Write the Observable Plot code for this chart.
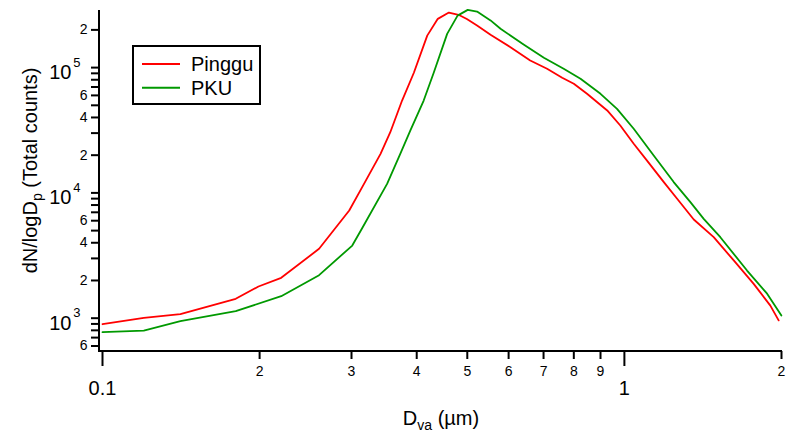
<!DOCTYPE html>
<html><head><meta charset="utf-8">
<script src="https://cdn.jsdelivr.net/npm/d3@7"></script>
<script src="https://cdn.jsdelivr.net/npm/@observablehq/plot@0.6"></script>
<style>
body{margin:0;background:#fff}
svg{font-family:"Liberation Sans",Arial,sans-serif}
</style>
</head><body><div id="chart"></div>
<script>
// ---- data ----
const pingguD = [0.1, 0.12, 0.141, 0.18, 0.199, 0.22, 0.26, 0.297, 0.317, 0.341, 0.356, 0.375, 0.395, 0.419, 0.439, 0.461, 0.481, 0.499, 0.522, 0.554, 0.605, 0.66, 0.711, 0.76, 0.8, 0.848, 0.927, 0.982, 1.042, 1.105, 1.19, 1.262, 1.358, 1.483, 1.62, 1.769, 1.904, 1.975];
const pingguN = [895, 1005, 1076, 1428, 1791, 2100, 3580, 7240, 11800, 20500, 30500, 54600, 91000, 180000, 245000, 275000, 264000, 244000, 217000, 183000, 145500, 114000, 97800, 82900, 74300, 61800, 45500, 34500, 24700, 18100, 12200, 8970, 6130, 4430, 2890, 1880, 1260, 960];
const pkuD = [0.1, 0.12, 0.141, 0.18, 0.22, 0.26, 0.301, 0.314, 0.351, 0.372, 0.389, 0.4125, 0.431, 0.4575, 0.479, 0.501, 0.522, 0.554, 0.579, 0.641, 0.701, 0.765, 0.824, 0.9, 0.968, 1.042, 1.138, 1.243, 1.338, 1.419, 1.527, 1.718, 1.877, 1.999];
const pkuN = [773, 797, 946, 1137, 1498, 2204, 3800, 5170, 11800, 20500, 31500, 54600, 90600, 186000, 260000, 289000, 280000, 238000, 204000, 153000, 120000, 97800, 81400, 61800, 46900, 32500, 19900, 12200, 8430, 6210, 4430, 2400, 1570, 1050];

const seriesNames = ["Pinggu", "PKU"];
const seriesColors = ["#ff0000", "#009900"];

// ---- tick definitions ----
const xMajorTicks = [0.1, 1];
const xMajorLabels = ["0.1", "1"];
const xMinorTicks = [0.2, 0.3, 0.4, 0.5, 0.6, 0.7, 0.8, 0.9, 2];
const xMinorLabels = ["2", "3", "4", "5", "6", "7", "8", "9", "2"];
const yMajorTicks = [1e3, 1e4, 1e5];
const yMajorBase = ["10", "10", "10"];
const yMajorExp = ["3", "4", "5"];
const yLabeledMinor = [600, 2000, 4000, 6000, 20000, 40000, 60000, 200000];
const yLabeledMinorText = ["6", "2", "4", "6", "2", "4", "6", "2"];
const yAllTicks = [600, 700, 800, 900, 1000, 2000, 3000, 4000, 5000, 6000, 7000, 8000, 9000, 10000, 20000, 30000, 40000, 50000, 60000, 70000, 80000, 90000, 100000, 200000];

const pinggu = pingguD.map((d, i) => ({d, n: pingguN[i]}));
const pku = pkuD.map((d, i) => ({d, n: pkuN[i]}));

const W = 787, H = 438, mL = 99, mR = 6, mT = 10, mB = 87;

const plot = Plot.plot({
  width: W, height: H,
  marginLeft: mL, marginRight: mR, marginTop: mT, marginBottom: mB,
  style: {background: "white", color: "black", fontFamily: "Liberation Sans, Arial, sans-serif", overflow: "visible"},
  x: {type: "log", domain: [0.1, 2], range: [102, 781], axis: null, label: null},
  y: {type: "log", domain: [542.2, 285600], axis: null, label: null},
  marks: [
    Plot.axisY({ticks: yAllTicks, anchor: "left", tickSize: 8, tickFormat: () => "", strokeWidth: 2, label: null}),
    Plot.text(yLabeledMinor, {y: d => d, text: (d, i) => yLabeledMinorText[i], frameAnchor: "left",
      textAnchor: "end", dx: -12, fontSize: 14, fill: "black"}),
    Plot.text(yMajorTicks, {y: d => d, text: (d, i) => yMajorBase[i], frameAnchor: "left",
      textAnchor: "end", dx: -28, dy: 5, fontSize: 20, fill: "black"}),
    Plot.text(yMajorTicks, {y: d => d, text: (d, i) => yMajorExp[i], frameAnchor: "left",
      textAnchor: "end", dx: -19, dy: -5, fontSize: 13, fill: "black"}),
    Plot.axisX({ticks: xMinorTicks, anchor: "bottom", tickSize: 8, tickFormat: () => "", strokeWidth: 2, label: null}),
    Plot.axisX({ticks: xMajorTicks, anchor: "bottom", tickSize: 15, tickFormat: () => "", strokeWidth: 2, label: null}),
    Plot.text(xMinorTicks, {x: d => d, text: (d, i) => xMinorLabels[i], frameAnchor: "bottom",
      lineAnchor: "top", dy: 15, fontSize: 14, fill: "black"}),
    Plot.text(xMajorTicks, {x: d => d, text: (d, i) => xMajorLabels[i], frameAnchor: "bottom",
      lineAnchor: "top", dy: 29, fontSize: 20, fill: "black"}),
    Plot.line(pinggu, {x: "d", y: "n", stroke: seriesColors[0], strokeWidth: 1.8, strokeLinejoin: "round", clip: false}),
    Plot.line(pku, {x: "d", y: "n", stroke: seriesColors[1], strokeWidth: 1.8, strokeLinejoin: "round", clip: false})
  ]
});

const svg = d3.select(plot);
// axis lines
svg.append("line").attr("x1", mL).attr("x2", mL).attr("y1", mT).attr("y2", H - mB + 1)
  .attr("stroke", "black").attr("stroke-width", 2);
svg.append("line").attr("x1", mL - 1).attr("x2", W - mR + 1).attr("y1", H - mB).attr("y2", H - mB)
  .attr("stroke", "black").attr("stroke-width", 2);

// x title
const xt = svg.append("text").attr("x", 441).attr("y", 425).attr("text-anchor", "middle")
  .attr("font-size", 20).attr("fill", "black");
xt.append("tspan").text("D");
xt.append("tspan").attr("font-size", 14).attr("dy", 5).text("va");
xt.append("tspan").attr("dy", -5).text(" (µm)");

// y title
const yt = svg.append("text").attr("transform", "translate(37,170.5) rotate(-90)").attr("text-anchor", "middle")
  .attr("font-size", 20).attr("fill", "black");
yt.append("tspan").text("dN/logD");
yt.append("tspan").attr("font-size", 14).attr("dy", 5).text("p");
yt.append("tspan").attr("dy", -5).text(" (Total counts)");

// legend
const lg = svg.append("g");
lg.append("rect").attr("x", 133).attr("y", 46).attr("width", 127).attr("height", 58)
  .attr("fill", "white").attr("stroke", "black").attr("stroke-width", 2);
seriesNames.forEach((name, i) => {
  const yy = 64 + i * 23.7;
  lg.append("line").attr("x1", 142).attr("x2", 180).attr("y1", yy).attr("y2", yy)
    .attr("stroke", seriesColors[i]).attr("stroke-width", 2);
  lg.append("text").attr("x", 191).attr("y", yy + 7).attr("text-anchor", "start")
    .attr("font-size", 20).attr("fill", "black").text(name);
});

document.getElementById("chart").appendChild(plot);
</script>
</body></html>
